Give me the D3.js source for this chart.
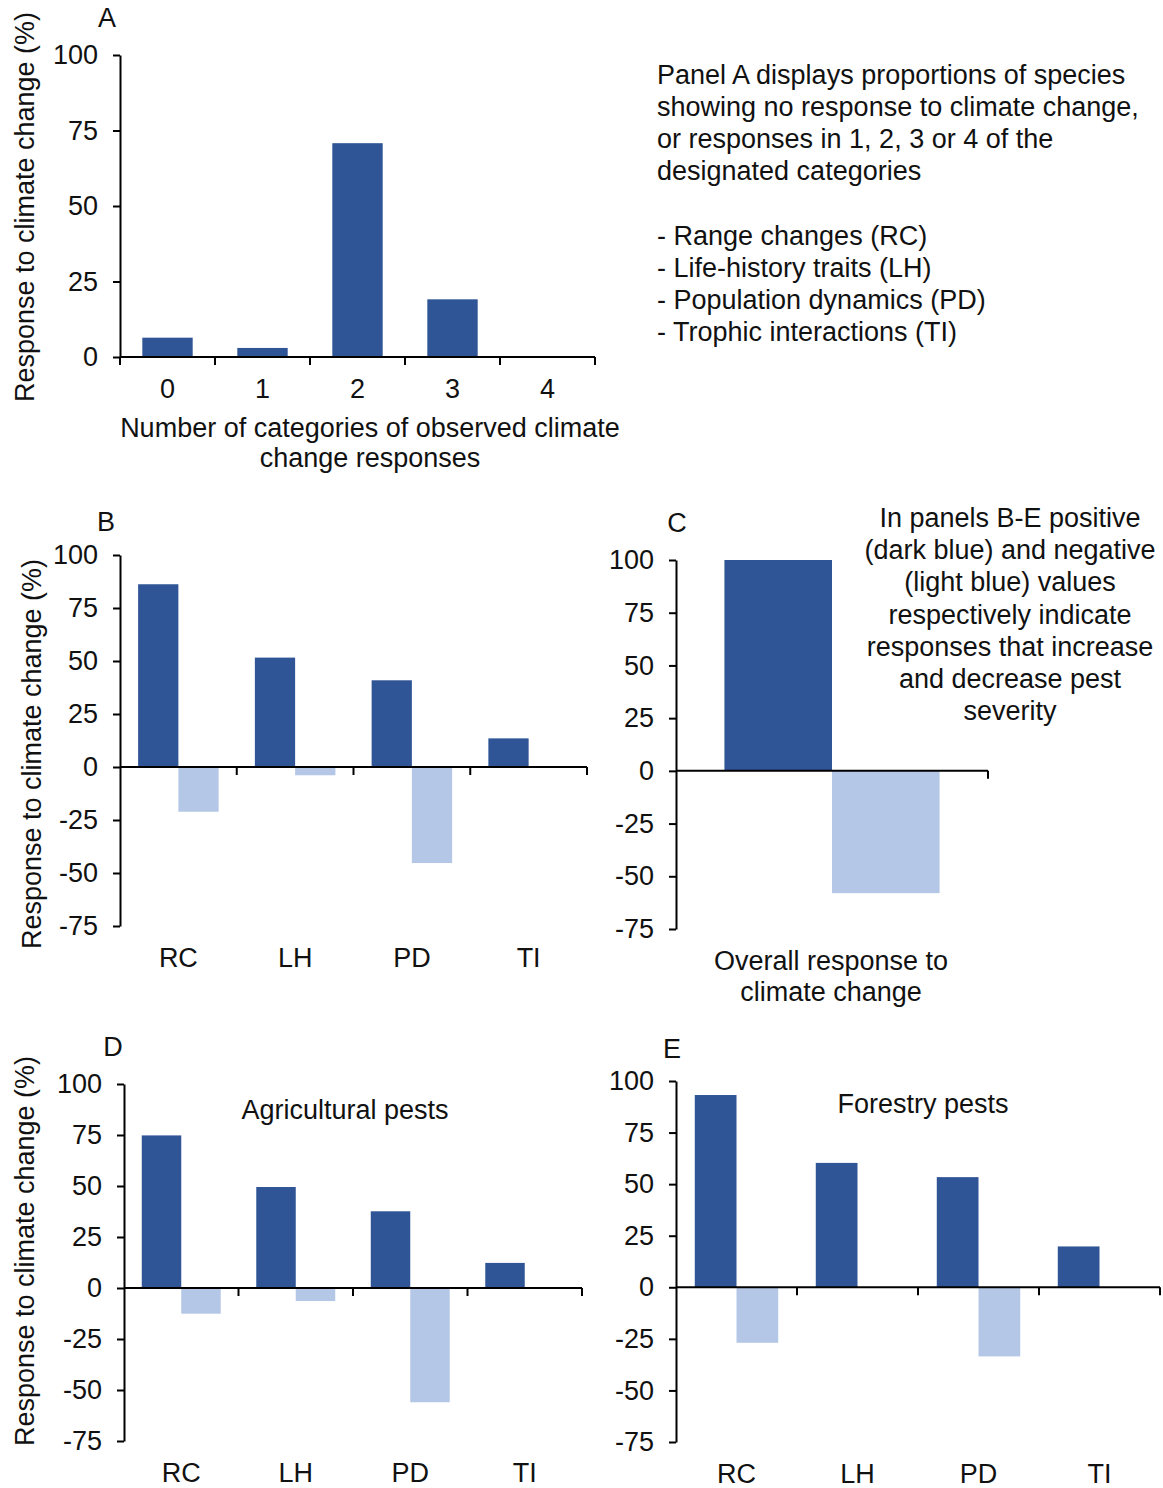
<!DOCTYPE html>
<html>
<head>
<meta charset="utf-8">
<script src="https://cdn.jsdelivr.net/npm/d3@7"></script>
<style>
  body { margin: 0; background: #fff; }
  text { font-family: "Liberation Sans", Arial, sans-serif; fill: #111; }
</style>
</head>
<body>
<div id="canvas"></div>
<script>
/* Data */
const countCats = ["0", "1", "2", "3", "4"];
const countValues = [6.4, 3.0, 70.8, 19.1, 0];

const traitCats = ["RC", "LH", "PD", "TI"];
const allPos = [86.2, 51.6, 40.9, 13.5];
const allNeg = [-21.1, -3.9, -45.3, 0];

const overallCats = ["Overall"];
const overallPos = [100];
const overallNeg = [-58.0];

const agriPos = [74.8, 49.5, 37.6, 12.3];
const agriNeg = [-12.6, -6.4, -56.0, 0];

const forestPos = [93.2, 60.3, 53.4, 19.8];
const forestNeg = [-26.9, 0, -33.5, 0];

const ticksA = [0, 25, 50, 75, 100];
const ticksSigned = [-75, -50, -25, 0, 25, 50, 75, 100];

const noteA = [
  "Panel A displays proportions of species",
  "showing  no response to climate change,",
  "or responses in 1, 2, 3 or 4 of the",
  "designated categories",
  "",
  "- Range changes (RC)",
  "- Life-history traits (LH)",
  "- Population  dynamics  (PD)",
  "- Trophic interactions (TI)"
];
const noteC = [
  "In panels B-E positive",
  "(dark blue) and negative",
  "(light blue) values",
  "respectively indicate",
  "responses that increase",
  "and decrease pest",
  "severity"
];

/* drawing config */
let svgWidth = 1163;
let svgHeight = 1488;
let darkBlue = "#2F5597";
let lightBlue = "#B4C7E7";
let fontSize = 27;

let svg = d3.select("#canvas")
    .append("svg")
    .attr("width", svgWidth)
    .attr("height", svgHeight);

// y axis with outward ticks, Excel look (plain hyphen for negatives)
function drawYAxis(g, y, x0, ticks) {
    let axis = d3.axisLeft(y)
        .tickValues(ticks)
        .tickFormat(d => String(d))
        .tickSize(7)
        .tickPadding(15)
        .tickSizeOuter(0);
    let a = g.append("g")
        .attr("transform", `translate(${x0},0)`)
        .call(axis);
    a.select(".domain").attr("stroke", "#000").attr("stroke-width", 2);
    a.selectAll(".tick line").attr("stroke", "#000").attr("stroke-width", 2);
    a.selectAll(".tick text")
        .attr("font-size", fontSize)
        .attr("font-family", "Liberation Sans, Arial, sans-serif")
        .attr("fill", "#111");
}

// horizontal axis line at value 0 with ticks at band edges
function drawBaseLine(g, x, yPos, tickLeft) {
    let r = x.range();
    g.append("line")
        .attr("x1", r[0]).attr("x2", r[1])
        .attr("y1", yPos).attr("y2", yPos)
        .attr("stroke", "#000").attr("stroke-width", 2);
    let edges = x.domain().map(c => x(c) + x.step());
    if (tickLeft) edges.unshift(r[0]);
    g.selectAll(".xtick")
        .data(edges)
        .enter()
        .append("line")
        .attr("x1", d => d).attr("x2", d => d)
        .attr("y1", yPos).attr("y2", yPos + 8)
        .attr("stroke", "#000").attr("stroke-width", 2);
}

function drawLabels(g, x, yPos) {
    let axis = d3.axisBottom(x).tickSize(0).tickPadding(0);
    let a = g.append("g")
        .attr("transform", `translate(0,${yPos})`)
        .call(axis);
    a.select(".domain").remove();
    a.selectAll(".tick text")
        .attr("font-size", fontSize)
        .attr("font-family", "Liberation Sans, Arial, sans-serif")
        .attr("fill", "#111")
        .attr("dy", "0.35em");
}

function addText(x, y, str, anchor) {
    svg.append("text")
        .attr("x", x).attr("y", y)
        .attr("text-anchor", anchor || "middle")
        .attr("dominant-baseline", "central")
        .attr("font-size", fontSize)
        .text(str);
}

function addYTitle(x, y, str) {
    svg.append("text")
        .attr("transform", `translate(${x},${y}) rotate(-90)`)
        .attr("text-anchor", "middle")
        .attr("dominant-baseline", "central")
        .attr("font-size", fontSize)
        .text(str);
}

/* Panel A */
{
    let g = svg.append("g");
    let x = d3.scaleBand().domain(countCats).range([120, 595]);
    let y = d3.scaleLinear().domain([0, 100]).range([357, 55]);
    let inner = d3.scaleBand().domain(["v"]).range([0, x.bandwidth()]).padding(0.307);

    g.selectAll(".barA")
        .data(countValues)
        .enter()
        .append("rect")
        .attr("x", (d, i) => x(countCats[i]) + inner("v"))
        .attr("width", inner.bandwidth())
        .attr("y", d => y(d))
        .attr("height", d => y(0) - y(d))
        .attr("fill", darkBlue);

    drawYAxis(g, y, 120, ticksA);
    drawBaseLine(g, x, y(0), true);
    drawLabels(g, x, 389);

    addText(107, 18, "A");
    addYTitle(25, 207, "Response to climate change (%)");
    addText(370, 428, "Number  of categories of observed climate");
    addText(370, 458, "change responses");

    noteA.forEach((s, i) => {
        if (s) addText(657, 75 + i * 32.1, s, "start");
    });
}

// signed panels (B-E)
function signedPanel(cats, pos, neg, xr, yr) {
    let g = svg.append("g");
    let x = d3.scaleBand().domain(cats).range(xr);
    let y = d3.scaleLinear().domain([-75, 100]).range([yr[1], yr[0]]);
    let inner = d3.scaleBand().domain(["pos", "neg"])
        .range([0, x.bandwidth()])
        .paddingInner(0)
        .paddingOuter(0.45);

    g.selectAll(".pos")
        .data(pos)
        .enter()
        .append("rect")
        .attr("x", (d, i) => x(cats[i]) + inner("pos"))
        .attr("width", inner.bandwidth())
        .attr("y", d => y(Math.max(0, d)))
        .attr("height", d => Math.abs(y(d) - y(0)))
        .attr("fill", darkBlue);

    g.selectAll(".neg")
        .data(neg)
        .enter()
        .append("rect")
        .attr("x", (d, i) => x(cats[i]) + inner("neg"))
        .attr("width", inner.bandwidth())
        .attr("y", y(0))
        .attr("height", d => Math.abs(y(d) - y(0)))
        .attr("fill", lightBlue);

    drawYAxis(g, y, xr[0], ticksSigned);
    drawBaseLine(g, x, y(0), false);
    return { g: g, x: x, y: y };
}

/* Panel B */
{
    let p = signedPanel(traitCats, allPos, allNeg, [120, 587], [555, 926]);
    drawLabels(p.g, p.x, 958);
    addText(106, 522, "B");
    addYTitle(32, 754, "Response to climate change (%)");
}

/* Panel C */
{
    signedPanel(overallCats, overallPos, overallNeg, [676, 988], [560, 929]);
    addText(677, 523, "C");
    addText(831, 961, "Overall response to");
    addText(831, 992, "climate change");
    noteC.forEach((s, i) => addText(1010, 518 + i * 32.2, s));
}

/* Panel D */
{
    let p = signedPanel(traitCats, agriPos, agriNeg, [124, 582], [1084, 1441]);
    drawLabels(p.g, p.x, 1473);
    addText(113, 1047, "D");
    addYTitle(25, 1251, "Response to climate change (%)");
    addText(345, 1110, "Agricultural pests");
}

/* Panel E */
{
    let p = signedPanel(traitCats, forestPos, forestNeg, [676, 1160], [1081, 1442]);
    drawLabels(p.g, p.x, 1474);
    addText(672, 1049, "E");
    addText(923, 1104, "Forestry pests");
}
</script>
</body>
</html>
